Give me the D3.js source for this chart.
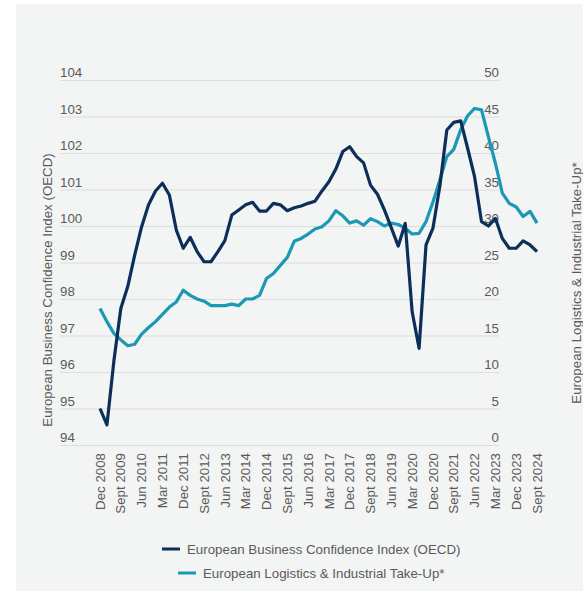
<!DOCTYPE html>
<html>
<head>
<meta charset="utf-8">
<script src="https://cdn.jsdelivr.net/npm/d3@7"></script>
<style>
  html, body { margin: 0; padding: 0; background: #ffffff; }
  svg { display: block; font-family: "Liberation Sans", Arial, sans-serif; }
</style>
</head>
<body>
<svg id="chart" width="583" height="591"></svg>
<script>
// Quarterly periods, Dec 2008 (Q4) through Sept 2024 (Q3)
const monthNames = ["Mar", "Jun", "Sept", "Dec"];
const quarters = [];
for (let y = 2008; y <= 2024; y++) {
  for (let q = 0; q < 4; q++) {
    if (y === 2008 && q < 3) continue;
    if (y === 2024 && q > 2) continue;
    quarters.push(monthNames[q] + " " + y);
  }
}

const tickLabels = ["Dec 2008", "Sept 2009", "Jun 2010", "Mar 2011", "Dec 2011", "Sept 2012",
  "Jun 2013", "Mar 2014", "Dec 2014", "Sept 2015", "Jun 2016", "Mar 2017", "Dec 2017",
  "Sept 2018", "Jun 2019", "Mar 2020", "Dec 2020", "Sept 2021", "Jun 2022", "Mar 2023",
  "Dec 2023", "Sept 2024"];

// European Business Confidence Index (OECD), left axis
const confidence = [
  95.0, 94.55, 96.3, 97.74, 98.34, 99.2, 99.98, 100.58, 100.96, 101.17,
  100.85, 99.89, 99.39, 99.69, 99.3, 99.02, 99.02, 99.3, 99.6, 100.3,
  100.44, 100.58, 100.65, 100.41, 100.41, 100.62, 100.58, 100.42, 100.5, 100.55,
  100.62, 100.68, 100.96, 101.21, 101.56, 102.04, 102.17, 101.9, 101.73, 101.12,
  100.87, 100.44, 99.95, 99.45, 100.07, 97.65, 96.65, 99.48, 99.94, 101.1,
  102.63, 102.84, 102.88, 102.13, 101.35, 100.12, 100.0, 100.21, 99.66, 99.39,
  99.39, 99.59, 99.48, 99.3
];

// European Logistics & Industrial Take-Up*, right axis
const takeUp = [
  18.7, 16.9, 15.3, 14.4, 13.6, 13.8, 15.2, 16.1, 16.9, 17.9,
  18.9, 19.6, 21.2, 20.5, 20.0, 19.7, 19.1, 19.1, 19.1, 19.3,
  19.1, 20.0, 20.0, 20.5, 22.8, 23.5, 24.6, 25.7, 27.9, 28.3,
  28.9, 29.6, 29.9, 30.7, 32.1, 31.4, 30.4, 30.7, 30.1, 31.0,
  30.6, 30.0, 30.4, 30.2, 29.7, 28.9, 29.0, 30.6, 33.3, 36.3,
  39.5, 40.5, 43.2, 45.1, 46.1, 45.9, 42.2, 38.6, 34.5, 33.1,
  32.6, 31.3, 32.0, 30.4
];

const leftTicks = [94, 95, 96, 97, 98, 99, 100, 101, 102, 103, 104];
const rightTicks = [0, 5, 10, 15, 20, 25, 30, 35, 40, 45, 50];

const seriesNames = ["European Business Confidence Index (OECD)", "European Logistics & Industrial Take-Up*"];
const leftTitle = "European Business Confidence Index (OECD)";
const rightTitle = "European Logistics & Industrial Take-Up*";

const colDark = "#0c2f5a";
const colTeal = "#1b98b3";
const textCol = "#5a5a5a";
const fs = 13.3;

const svg = d3.select("#chart");

// background panel
svg.append("rect")
  .attr("x", 16).attr("y", 4)
  .attr("width", 583 - 16).attr("height", 591 - 4)
  .attr("fill", "#f3f4f4");

const plot = { left: 60, right: 499, top: 80, bottom: 445 };

const x = d3.scalePoint().domain(quarters).range([100, 537]);
const yL = d3.scaleLinear().domain([94, 104]).range([plot.bottom, plot.top]);
const yR = d3.scaleLinear().domain([0, 50]).range([plot.bottom, plot.top]);

// gridlines
svg.append("g").selectAll("line").data(leftTicks).join("line")
  .attr("x1", plot.left).attr("x2", plot.right)
  .attr("y1", d => yL(d) + 0.5).attr("y2", d => yL(d) + 0.5)
  .attr("stroke", "#dcdddd").attr("stroke-width", 1);

// left tick labels (sit above each gridline)
svg.append("g").selectAll("text").data(leftTicks).join("text")
  .attr("x", plot.left).attr("y", d => yL(d) - 3)
  .attr("font-size", fs).attr("fill", textCol)
  .text(d => d);

// right tick labels
svg.append("g").selectAll("text").data(rightTicks).join("text")
  .attr("x", plot.right).attr("y", d => yR(d) - 3)
  .attr("text-anchor", "end")
  .attr("font-size", fs).attr("fill", textCol)
  .text(d => d);

// x tick labels, rotated
svg.append("g").selectAll("text").data(tickLabels).join("text")
  .attr("transform", d => `translate(${x(d)},453) rotate(-90)`)
  .attr("text-anchor", "end").attr("dy", "0.35em")
  .attr("font-size", fs).attr("fill", textCol)
  .text(d => d);

// axis titles
svg.append("text")
  .attr("transform", "translate(47,290) rotate(-90)")
  .attr("text-anchor", "middle").attr("dy", "0.35em")
  .attr("font-size", fs).attr("fill", textCol)
  .text(leftTitle);

svg.append("text")
  .attr("transform", "translate(576,283) rotate(-90)")
  .attr("text-anchor", "middle").attr("dy", "0.35em")
  .attr("font-size", fs).attr("fill", textCol)
  .text(rightTitle);

// series lines
const lineL = d3.line().x((d, i) => x(quarters[i])).y(d => yL(d));
const lineR = d3.line().x((d, i) => x(quarters[i])).y(d => yR(d));

svg.append("path").datum(takeUp)
  .attr("d", lineR).attr("fill", "none")
  .attr("stroke", colTeal).attr("stroke-width", 3.2)
  .attr("stroke-linejoin", "round");

svg.append("path").datum(confidence)
  .attr("d", lineL).attr("fill", "none")
  .attr("stroke", colDark).attr("stroke-width", 3.2)
  .attr("stroke-linejoin", "round");

// legend
const legend = [
  { name: seriesNames[0], color: colDark, x: 162, y: 549 },
  { name: seriesNames[1], color: colTeal, x: 178, y: 573 }
];
const lg = svg.append("g").selectAll("g").data(legend).join("g")
  .attr("transform", d => `translate(${d.x},${d.y})`);
lg.append("line").attr("x1", 0).attr("x2", 18).attr("y1", 0).attr("y2", 0)
  .attr("stroke", d => d.color).attr("stroke-width", 3);
lg.append("text").attr("x", 25).attr("dy", "0.35em")
  .attr("font-size", fs).attr("fill", textCol)
  .text(d => d.name);
</script>
</body>
</html>
